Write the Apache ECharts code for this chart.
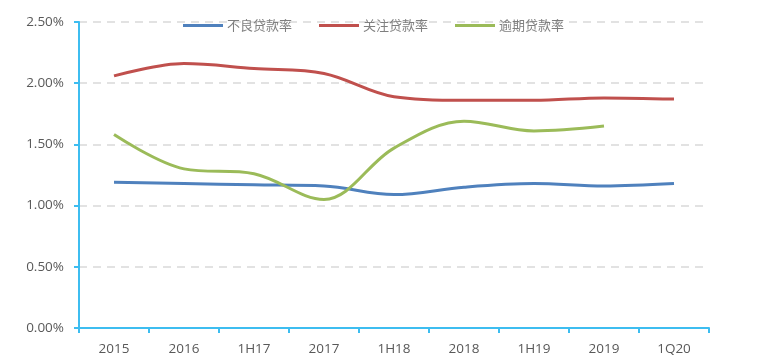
<!DOCTYPE html>
<html><head><meta charset="utf-8">
<script src="https://cdn.jsdelivr.net/npm/echarts@6/dist/echarts.min.js"></script>
<style>html,body{margin:0;padding:0;background:#fff}#c{width:764px;height:362px}</style>
</head><body><div id="c"></div>
<script>
const categories = ['2015','2016','1H17','2017','1H18','2018','1H19','2019','1Q20'];
const seriesNames = ['不良贷款率','关注贷款率','逾期贷款率'];
const npl = [1.19, 1.18, 1.17, 1.16, 1.09, 1.15, 1.18, 1.16, 1.18];
const watch = [2.06, 2.16, 2.12, 2.08, 1.89, 1.86, 1.86, 1.88, 1.87];
const overdue = [1.58, 1.30, 1.26, 1.05, 1.47, 1.69, 1.61, 1.65, null];
const yTicks = [0, 0.5, 1.0, 1.5, 2.0, 2.5];

const colors = ['#4f81bd', '#c0504d', '#9bbb59'];
const axisColor = '#3dbdf0';
const chart = echarts.init(document.getElementById('c'));
function mk(name, data, color) {
  return {name, type:'line', data, smooth:0.35, symbol:'none',
    lineStyle:{width:3, color}, itemStyle:{color}, connectNulls:false};
}
chart.setOption({
  animation:false,
  textStyle:{fontFamily:'"Open Sans", "Noto Sans CJK SC", sans-serif'},
  grid:{left:79, right:55, top:22, bottom:34},
  legend:{
    top:14, left:178, itemWidth:40, itemHeight:3, itemGap:27, icon:'rect',
    textStyle:{color:'#7f7f7f', fontSize:13, padding:[0,0,0,-1], fontFamily:'"Noto Sans CJK SC", sans-serif'},
    data:seriesNames
  },
  xAxis:{
    type:'category', data:categories, boundaryGap:true,
    axisLine:{lineStyle:{color:axisColor, width:2}},
    axisTick:{show:true, length:5, lineStyle:{color:axisColor, width:2}},
    axisLabel:{color:'#595959', fontSize:13.5, margin:14}
  },
  yAxis:{
    type:'value', min:0, max:2.5, interval:0.5,
    axisLine:{show:true, lineStyle:{color:axisColor, width:2}},
    axisTick:{show:true, length:5, lineStyle:{color:axisColor, width:2}},
    axisLabel:{color:'#595959', fontSize:13.5, margin:15,
      formatter: v => v.toFixed(2) + '%'},
    splitLine:{show:true, lineStyle:{color:'#d9d9d9', type:[8,6], width:1.5}}
  },
  series:[mk(seriesNames[0], npl, colors[0]), mk(seriesNames[1], watch, colors[1]), mk(seriesNames[2], overdue, colors[2])]
});
</script></body></html>
